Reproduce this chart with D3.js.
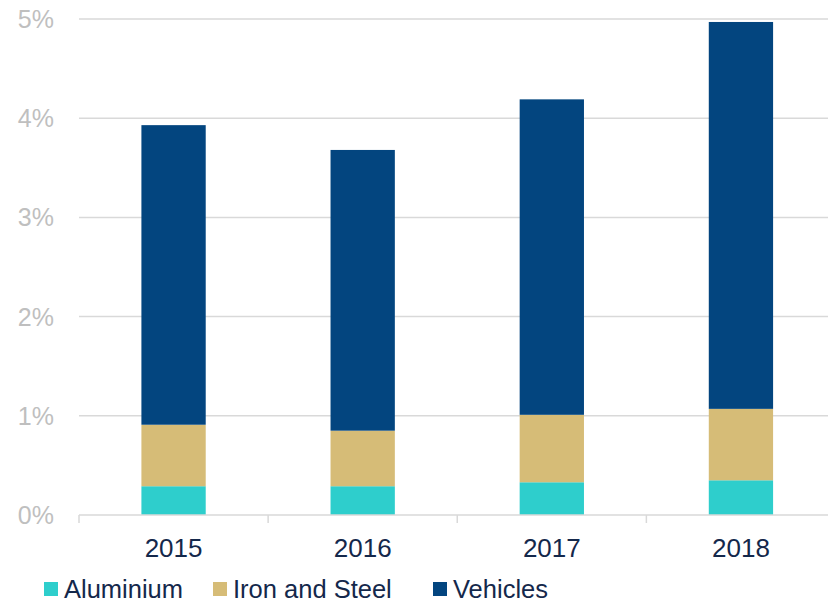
<!DOCTYPE html>
<html>
<head>
<meta charset="utf-8">
<script src="https://cdn.jsdelivr.net/npm/d3@7"></script>
<style>
  html, body { margin: 0; padding: 0; background: #ffffff; }
  svg { display: block; font-family: "Liberation Sans", Arial, sans-serif; }
</style>
</head>
<body>
<svg id="chart" width="828" height="604"></svg>
<script>
// Share of exports by product group, stacked per year (percent)
const years = ["2015", "2016", "2017", "2018"];
const aluminium = [0.29, 0.29, 0.33, 0.35];
const ironAndSteel = [0.62, 0.56, 0.68, 0.72];
const vehicles = [3.02, 2.83, 3.18, 3.90];
const seriesNames = ["Aluminium", "Iron and Steel", "Vehicles"];
const seriesColors = ["#2ECECC", "#D6BC77", "#03457F"];
const yTicks = [0, 1, 2, 3, 4, 5];

const rows = years.map((y, i) => ({
  year: y,
  "Aluminium": aluminium[i],
  "Iron and Steel": ironAndSteel[i],
  "Vehicles": vehicles[i]
}));

const svg = d3.select("#chart");
const plotLeft = 79, plotRight = 835.5, plotTop = 19, plotBottom = 515;

const x = d3.scaleBand()
  .domain(years)
  .range([plotLeft, plotRight])
  .paddingInner(0.66)
  .paddingOuter(0.33);

const y = d3.scaleLinear().domain([0, 5]).range([plotBottom, plotTop]);

const color = d3.scaleOrdinal().domain(seriesNames).range(seriesColors);

// Horizontal gridlines
svg.append("g")
  .selectAll("line")
  .data(yTicks.filter(t => t > 0))
  .join("line")
  .attr("x1", plotLeft).attr("x2", 828)
  .attr("y1", d => y(d)).attr("y2", d => y(d))
  .attr("stroke", "#D9D9D9")
  .attr("stroke-width", 1.5);

// Y tick labels
svg.append("g")
  .selectAll("text")
  .data(yTicks)
  .join("text")
  .attr("x", 54)
  .attr("y", d => y(d))
  .attr("dy", "0.36em")
  .attr("text-anchor", "end")
  .attr("fill", "#BFBFBF")
  .attr("font-size", 25)
  .text(d => d + "%");

// Stacked bars
const stack = d3.stack().keys(seriesNames);
const layers = stack(rows);

svg.append("g")
  .selectAll("g")
  .data(layers)
  .join("g")
  .attr("fill", d => color(d.key))
  .selectAll("rect")
  .data(d => d)
  .join("rect")
  .attr("x", d => x(d.data.year))
  .attr("width", x.bandwidth())
  .attr("y", d => y(d[1]))
  .attr("height", d => y(d[0]) - y(d[1]));

// Category axis line with tick marks between bands
const axis = svg.append("g");
axis.append("line")
  .attr("x1", plotLeft).attr("x2", 828)
  .attr("y1", plotBottom).attr("y2", plotBottom)
  .attr("stroke", "#D9D9D9")
  .attr("stroke-width", 1.5);

const step = x.step();
const boundaries = years.map((yr, i) => x(years[0]) - x.paddingOuter() * step + i * step);
axis.selectAll("line.tick")
  .data(boundaries)
  .join("line")
  .attr("class", "tick")
  .attr("x1", d => d).attr("x2", d => d)
  .attr("y1", plotBottom).attr("y2", plotBottom + 8)
  .attr("stroke", "#D9D9D9")
  .attr("stroke-width", 1.5);

axis.selectAll("text")
  .data(years)
  .join("text")
  .attr("x", d => x(d) + x.bandwidth() / 2)
  .attr("y", 557)
  .attr("text-anchor", "middle")
  .attr("fill", "#14284B")
  .attr("font-size", 26)
  .text(d => d);

// Legend
const legendX = [44, 213, 433];
const legend = svg.append("g")
  .selectAll("g")
  .data(seriesNames)
  .join("g")
  .attr("transform", (d, i) => `translate(${legendX[i]},0)`);

legend.append("rect")
  .attr("x", 0).attr("y", 582)
  .attr("width", 14).attr("height", 14)
  .attr("fill", d => color(d));

legend.append("text")
  .attr("x", 20)
  .attr("y", 598)
  .attr("fill", "#14284B")
  .attr("font-size", 25.5)
  .text(d => d);
</script>
</body>
</html>
